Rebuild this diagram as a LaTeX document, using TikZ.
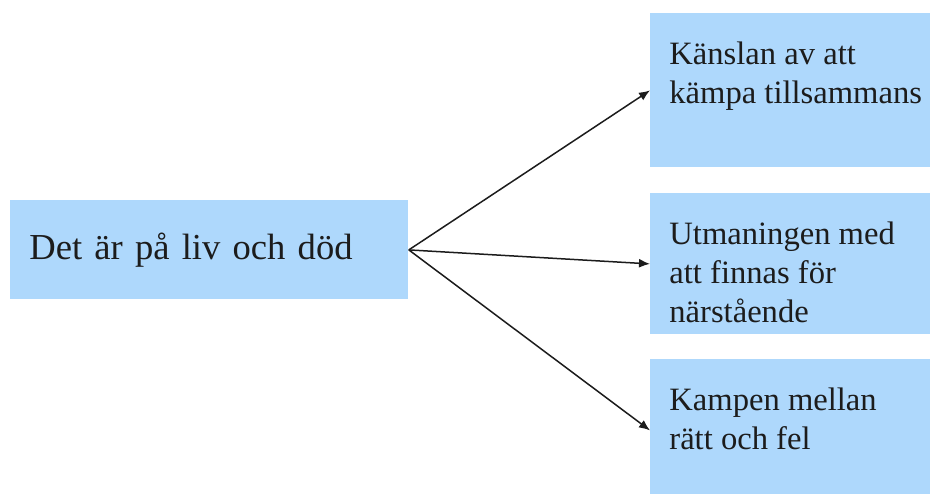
\documentclass[tikz,border=0pt]{standalone}
\usepackage{fontspec}
\setmainfont{Liberation Serif}
\usepackage{xcolor}
\usetikzlibrary{arrows.meta, positioning}
\definecolor{boxblue}{RGB}{174,216,252}
\definecolor{inkgray}{RGB}{28,28,28}

\begin{document}
\begin{tikzpicture}[x=0.5pt, y=-0.5pt,
        box/.style={fill=boxblue, draw=none, inner sep=0pt, anchor=north west},
        boxtext/.style={text=inkgray, inner sep=0pt, anchor=north west, align=left,
            font=\fontsize{16.3}{19.6}\selectfont},
        arrow/.style={-{Latex[length=5.5pt, width=4.5pt]}, line width=0.75pt, draw=inkgray}]
        \useasboundingbox (0,0) rectangle (930,493);

        % Left box
        \node[box, text=inkgray, minimum height=49.5pt, text width=180pt, inner xsep=9.5pt,
            align=left, font=\fontsize{18.3}{22}\selectfont] (liv) at (10,200) {Det är på liv och död};

        % Right boxes
        \node[box, minimum width=140pt, minimum height=77pt] (kansla) at (650,13) {};
        \node[boxtext] (kanslatxt) at ([xshift=9.5pt, yshift=-14pt]kansla.north west)
            {Känslan av att\\kämpa tillsammans};

        \node[box, minimum width=140pt, minimum height=70.5pt] (utmaning) at (650,193) {};
        \node[boxtext] (utmaningtxt) at ([xshift=9.5pt, yshift=-14pt]utmaning.north west)
            {Utmaningen med\\att finnas för\\närstående};

        \node[box, minimum width=140pt, minimum height=71pt] (kamp) at (650,359) {};
        \node[boxtext] (kamptxt) at ([xshift=9.5pt, yshift=-14pt]kamp.north west)
            {Kampen mellan\\rätt och fel};

        % Arrows
        \foreach \target in {kansla, utmaning, kamp} {
                \draw[arrow] (liv.east) -- (\target.west);
            }
    \end{tikzpicture}
\end{document}
